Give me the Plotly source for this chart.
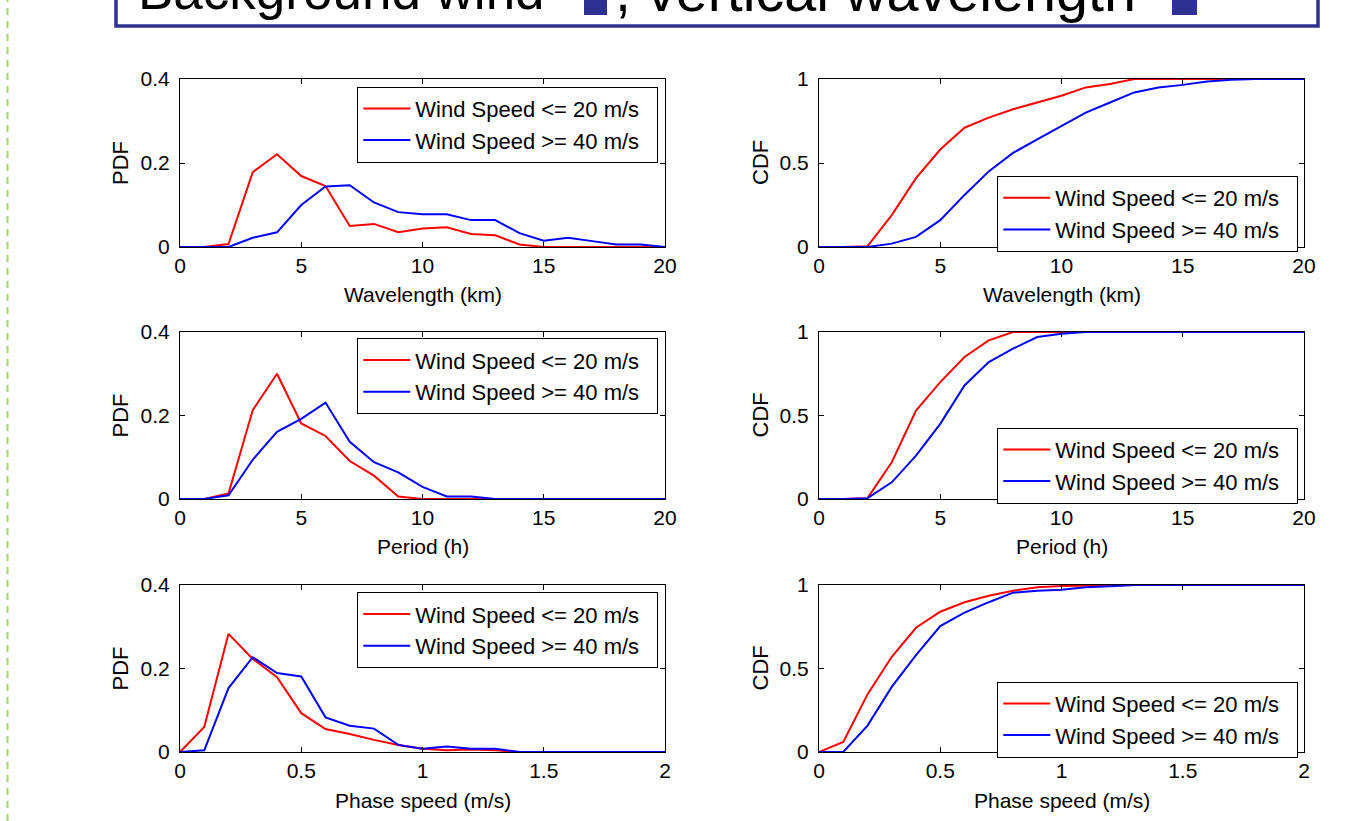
import plotly.graph_objects as go

W, H = 1359, 821

# ---------------- data ----------------
wl_x = [0, 1, 2, 3, 4, 5, 6, 7, 8, 9, 10, 11, 12, 13, 14, 15, 16, 17, 18, 19, 20]
pdf_wl_low = [0, 0, 0.007, 0.178, 0.221, 0.169, 0.145, 0.050, 0.055, 0.035, 0.044,
              0.047, 0.031, 0.028, 0.006, 0, 0, 0, 0, 0, 0]
pdf_wl_high = [0, 0, 0, 0.022, 0.035, 0.100, 0.144, 0.147, 0.106, 0.083, 0.078,
               0.078, 0.064, 0.064, 0.033, 0.015, 0.022, 0.014, 0.006, 0.006, 0]
cdf_wl_low = [0, 0, 0.005, 0.19, 0.41, 0.58, 0.71, 0.77, 0.82, 0.86, 0.90,
              0.95, 0.97, 1, 1, 1, 1, 1, 1, 1, 1]
cdf_wl_high = [0, 0, 0, 0.02, 0.06, 0.16, 0.31, 0.45, 0.56, 0.64, 0.72,
               0.80, 0.86, 0.92, 0.95, 0.965, 0.985, 0.995, 1, 1, 1]

per_x = [0, 1, 2, 3, 4, 5, 6, 7, 8, 9, 10, 11, 12, 13, 14, 15, 16, 17, 18, 19, 20]
pdf_per_low = [0, 0, 0.013, 0.213, 0.300, 0.181, 0.151, 0.091, 0.056, 0.006, 0,
               0, 0, 0, 0, 0, 0, 0, 0, 0, 0]
pdf_per_high = [0, 0, 0.009, 0.094, 0.161, 0.192, 0.231, 0.137, 0.088, 0.064, 0.029,
                0.006, 0.006, 0, 0, 0, 0, 0, 0, 0, 0]
cdf_per_low = [0, 0, 0.005, 0.22, 0.53, 0.70, 0.85, 0.95, 1, 1, 1,
               1, 1, 1, 1, 1, 1, 1, 1, 1, 1]
cdf_per_high = [0, 0, 0.005, 0.10, 0.26, 0.45, 0.68, 0.82, 0.90, 0.97, 0.99,
                1, 1, 1, 1, 1, 1, 1, 1, 1, 1]

ph_x = [0, 0.1, 0.2, 0.3, 0.4, 0.5, 0.6, 0.7, 0.8, 0.9, 1.0,
        1.1, 1.2, 1.3, 1.4, 1.5, 1.6, 1.7, 1.8, 1.9, 2.0]
pdf_ph_low = [0, 0.060, 0.283, 0.223, 0.179, 0.093, 0.055, 0.043, 0.029, 0.017, 0.008,
              0.004, 0.006, 0.004, 0, 0, 0, 0, 0, 0, 0]
pdf_ph_high = [0, 0.004, 0.153, 0.227, 0.189, 0.181, 0.083, 0.063, 0.056, 0.017, 0.008,
               0.013, 0.008, 0.008, 0, 0, 0, 0, 0, 0, 0]
cdf_ph_low = [0, 0.06, 0.345, 0.57, 0.744, 0.84, 0.897, 0.936, 0.966, 0.986, 0.994,
              0.997, 1, 1, 1, 1, 1, 1, 1, 1, 1]
cdf_ph_high = [0, 0, 0.158, 0.39, 0.58, 0.754, 0.835, 0.897, 0.954, 0.966, 0.972,
               0.986, 0.992, 1, 1, 1, 1, 1, 1, 1, 1]

series_names = ["Wind Speed <= 20 m/s", "Wind Speed >= 40 m/s"]
x_titles = ["Wavelength (km)", "Period (h)", "Phase speed (m/s)"]
y_titles = ["PDF", "CDF"]

xt_int = [0, 5, 10, 15, 20]
xt_int_txt = ["0", "5", "10", "15", "20"]
xt_ph = [0, 0.5, 1, 1.5, 2]
xt_ph_txt = ["0", "0.5", "1", "1.5", "2"]
yt_pdf = [0, 0.2, 0.4]
yt_pdf_txt = ["0", "0.2", "0.4"]
yt_cdf = [0, 0.5, 1]
yt_cdf_txt = ["0", "0.5", "1"]

panels = [
    # (row, col, x, low, high, xrange, xticks, xtext, yrange, yticks, ytext)
    (0, 0, wl_x, pdf_wl_low, pdf_wl_high, [0, 20], xt_int, xt_int_txt, [0, 0.4], yt_pdf, yt_pdf_txt),
    (0, 1, wl_x, cdf_wl_low, cdf_wl_high, [0, 20], xt_int, xt_int_txt, [0, 1], yt_cdf, yt_cdf_txt),
    (1, 0, per_x, pdf_per_low, pdf_per_high, [0, 20], xt_int, xt_int_txt, [0, 0.4], yt_pdf, yt_pdf_txt),
    (1, 1, per_x, cdf_per_low, cdf_per_high, [0, 20], xt_int, xt_int_txt, [0, 1], yt_cdf, yt_cdf_txt),
    (2, 0, ph_x, pdf_ph_low, pdf_ph_high, [0, 2], xt_ph, xt_ph_txt, [0, 0.4], yt_pdf, yt_pdf_txt),
    (2, 1, ph_x, cdf_ph_low, cdf_ph_high, [0, 2], xt_ph, xt_ph_txt, [0, 1], yt_cdf, yt_cdf_txt),
]

# ---------------- layout geometry (pixels) ----------------
col_px = [(180, 665), (819, 1304)]
row_px = [(79, 247), (332, 499), (585, 752)]
legend_pdf_top = [86.7, 338.3, 592.3]
legend_cdf_top = [176, 427.7, 681.7]
legend_right = [658.3, 1298.3]
xtitle_y = [294, 546, 800]
ytitle_x = [120, 760]
LEGEND_PAD = "\u00a0\u00a0"   # invisible trailing padding inside the legend box


def px(xp):
    return xp / W


def py(yp):
    return 1 - yp / H


FONT = "Liberation Sans, Arial, Helvetica, sans-serif"
fig = go.Figure()
layout = dict(
    width=W, height=H, autosize=False,
    margin=dict(l=0, r=0, t=0, b=0),
    paper_bgcolor="white", plot_bgcolor="white",
    font=dict(family=FONT, size=21, color="black"),
    showlegend=True,
)
annotations = []
shapes = []

for i, (r, c, xs, lo, hi, xr, xtv, xtt, yr, ytv, ytt) in enumerate(panels):
    n = i + 1
    xa = "x" if n == 1 else f"x{n}"
    ya = "y" if n == 1 else f"y{n}"
    lg = "legend" if n == 1 else f"legend{n}"
    fig.add_trace(go.Scatter(x=xs, y=lo, mode="lines", name=series_names[0] + LEGEND_PAD,
                             line=dict(color="#ff0000", width=2),
                             xaxis=xa, yaxis=ya, legend=lg, legendgroup=f"g{n}"))
    fig.add_trace(go.Scatter(x=xs, y=hi, mode="lines", name=series_names[1] + LEGEND_PAD,
                             line=dict(color="#0000ff", width=2),
                             xaxis=xa, yaxis=ya, legend=lg, legendgroup=f"g{n}"))
    axcommon = dict(showline=True, linecolor="black", linewidth=1, mirror="ticks",
                    ticks="inside", ticklen=5, tickcolor="black", tickwidth=1,
                    showgrid=False, zeroline=False, automargin=False,
                    tickfont=dict(family=FONT, size=21, color="black"))
    layout["xaxis" if n == 1 else f"xaxis{n}"] = dict(
        axcommon, domain=[px(col_px[c][0]), px(col_px[c][1])], range=xr,
        tickvals=xtv, ticktext=xtt, anchor=ya, ticklabelstandoff=0)
    layout["yaxis" if n == 1 else f"yaxis{n}"] = dict(
        axcommon, domain=[py(row_px[r][1]), py(row_px[r][0])], range=yr,
        tickvals=ytv, ticktext=ytt, anchor=xa, ticklabelstandoff=5)
    top = legend_pdf_top[r] if c == 0 else legend_cdf_top[r]
    layout[lg] = dict(
        x=px(legend_right[c]), y=py(top), xanchor="right", yanchor="top",
        xref="paper", yref="paper",
        bgcolor="white", bordercolor="black", borderwidth=1,
        font=dict(family=FONT, size=22, color="black"),
        tracegroupgap=0, itemwidth=47,
    )
    # axis titles
    annotations.append(dict(text=x_titles[r], x=px((col_px[c][0] + col_px[c][1]) / 2),
                            y=py(xtitle_y[r]), xref="paper", yref="paper",
                            showarrow=False, xanchor="center", yanchor="middle",
                            font=dict(family=FONT, size=21, color="black")))
    annotations.append(dict(text=y_titles[c], x=px(ytitle_x[c]),
                            y=py((row_px[r][0] + row_px[r][1]) / 2), xref="paper", yref="paper",
                            showarrow=False, xanchor="center", yanchor="middle", textangle=-90,
                            font=dict(family=FONT, size=22, color="black")))

# title box (cut off at top of the figure)
BLUE = "#2e3192"
shapes.append(dict(type="rect", xref="paper", yref="paper",
                   x0=px(116), x1=px(1318), y0=py(26), y1=py(-20),
                   line=dict(color=BLUE, width=3.5), fillcolor="white", layer="below"))
shapes.append(dict(type="rect", xref="paper", yref="paper",
                   x0=px(584), x1=px(607), y0=py(15), y1=py(-5),
                   line=dict(width=0), fillcolor=BLUE))
shapes.append(dict(type="rect", xref="paper", yref="paper",
                   x0=px(1172), x1=px(1197), y0=py(15), y1=py(-5),
                   line=dict(width=0), fillcolor=BLUE))
annotations.append(dict(text="Background wind", x=px(136), y=py(-9), xref="paper", yref="paper",
                        showarrow=False, xanchor="left", yanchor="middle",
                        font=dict(family=FONT, size=53, color="black")))
annotations.append(dict(text=", vertical wavelength", x=px(613), y=py(-9), xref="paper", yref="paper",
                        showarrow=False, xanchor="left", yanchor="middle",
                        font=dict(family=FONT, size=57.5, color="black")))
# green dashed guide line at left edge
shapes.append(dict(type="line", xref="paper", yref="paper",
                   x0=px(7.5), x1=px(7.5), y0=0, y1=1,
                   line=dict(color="#9fd86a", width=2, dash="7px,6px")))

layout["annotations"] = annotations
layout["shapes"] = shapes
fig.update_layout(**layout)
fig.write_html("out.html", config={"displayModeBar": False},
               post_script="document.body.style.margin='0px';document.body.style.overflow='hidden';")
